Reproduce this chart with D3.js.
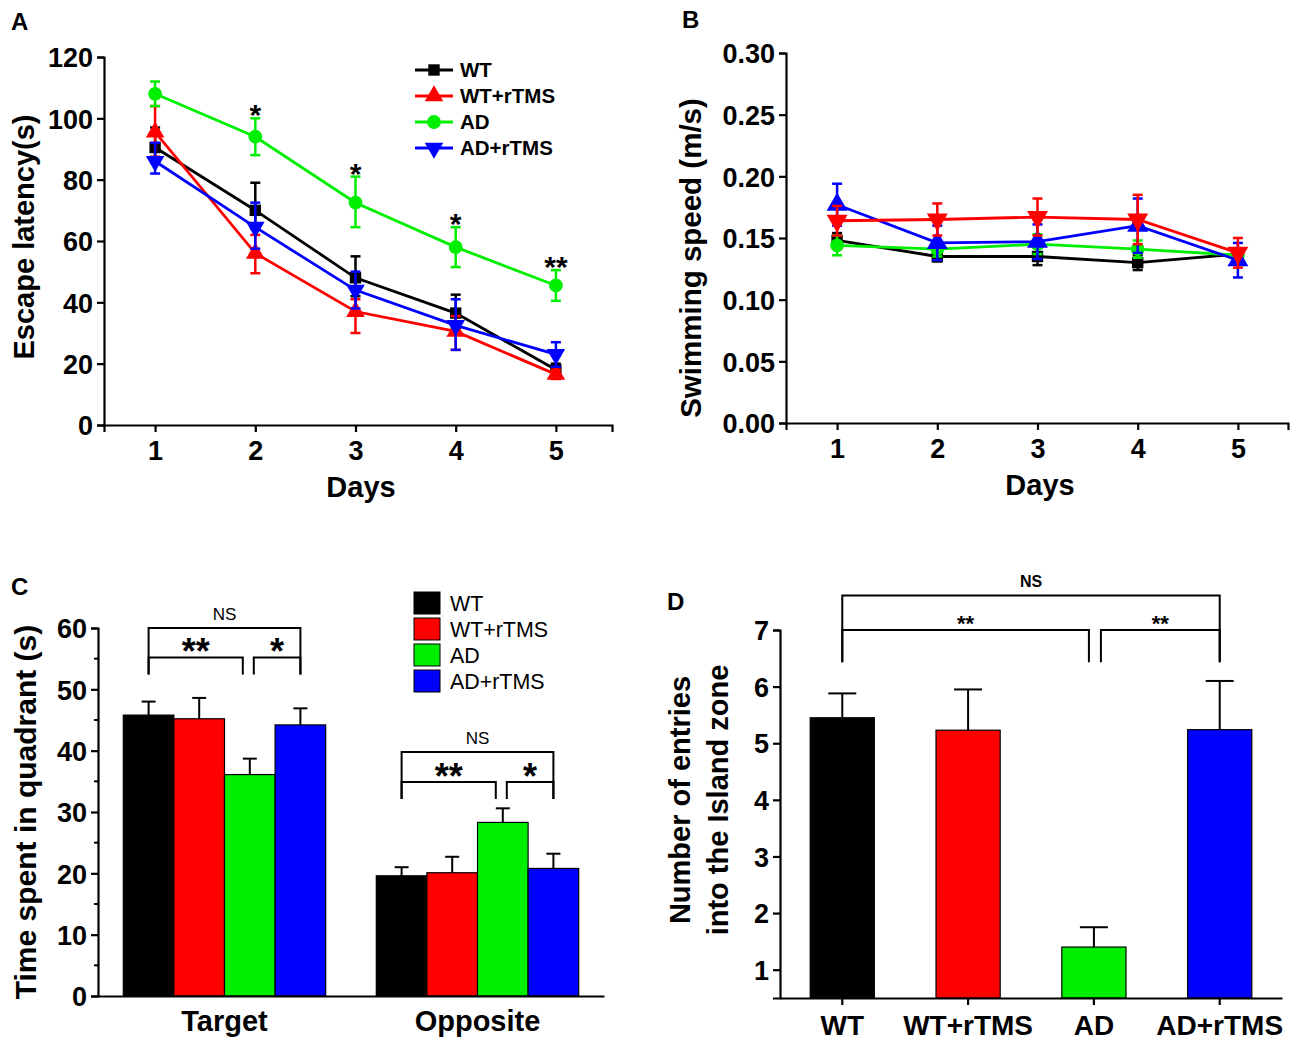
<!DOCTYPE html>
<html>
<head>
<meta charset="utf-8">
<script src="https://cdn.jsdelivr.net/npm/d3@7"></script>
<style>
  body { margin: 0; background: #fff; }
  text { font-family: 'Liberation Sans', Arial, sans-serif; }
</style>
</head>
<body>
<svg id="fig" width="1300" height="1049"></svg>
<script>
// Groups shared across panels
const groups = ["WT", "WT+rTMS", "AD", "AD+rTMS"];
const groupColors = ["#000000", "#ff0000", "#00ee00", "#0000ff"];
const days = [1, 2, 3, 4, 5];

// Panel A - escape latency (s)
const latencyWT = [90.5, 70, 48, 36.5, 18];
const latencyWTrTMS = [95.5, 56, 37, 30.5, 16.5];
const latencyAD = [108, 94, 72.5, 58, 45.5];
const latencyADrTMS = [86, 64.5, 44, 32.5, 23];
const latencyUpWT = [6.5, 9, 7, 6, 2];
const latencyUpWTrTMS = [8.5, 6, 4, 5, 1.5];
const latencyUpAD = [4, 6, 8.5, 6.5, 5];
const latencyUpADrTMS = [6, 8, 6, 8.5, 4];
const latencyDownWT = [5, 6, 6, 5, 2];
const latencyDownWTrTMS = [8, 6.5, 7, 6, 1.5];
const latencyDownAD = [4, 6, 8, 6.5, 5];
const latencyDownADrTMS = [4, 7, 6, 8, 4];
const latencyStars = ["", "*", "*", "*", "**"];
const latencyTicks = [0, 20, 40, 60, 80, 100, 120];

// Panel B - swimming speed (m/s)
const speedWT = [0.148, 0.135, 0.135, 0.130, 0.137];
const speedWTrTMS = [0.164, 0.165, 0.167, 0.165, 0.138];
const speedAD = [0.144, 0.141, 0.145, 0.141, 0.136];
const speedADrTMS = [0.177, 0.146, 0.147, 0.160, 0.132];
const speedErrWT = [0.006, 0.004, 0.007, 0.006, 0.004];
const speedErrWTrTMS = [0.012, 0.013, 0.015, 0.020, 0.012];
const speedErrAD = [0.008, 0.006, 0.008, 0.007, 0.004];
const speedErrADrTMS = [0.017, 0.014, 0.014, 0.022, 0.014];
const speedTicks = [0, 0.05, 0.10, 0.15, 0.20, 0.25, 0.30];

// Panel C - time spent in quadrant (s)
const quadrants = ["Target", "Opposite"];
const quadrantMean = [[45.8, 45.2, 36.1, 44.2], [19.6, 20.1, 28.3, 20.8]];
const quadrantErr = [[2.2, 3.4, 2.6, 2.7], [1.4, 2.6, 2.3, 2.4]];
const quadrantTicks = [0, 10, 20, 30, 40, 50, 60];
// brackets: group index, first bar, last bar, line level, leg level, label, kind
const quadrantBrackets = [
  [0, 0, 3, 60, 52.4, "NS", "ns"], [0, 0, 2, 55.2, 52.4, "**", "left"], [0, 2, 3, 55.2, 52.4, "*", "right"],
  [1, 0, 3, 39.8, 32.1, "NS", "ns"], [1, 0, 2, 34.9, 32.1, "**", "left"], [1, 2, 3, 34.9, 32.1, "*", "right"]
];

// Panel D - island zone entries
const entriesMean = [5.45, 5.23, 1.40, 5.24];
const entriesErr = [0.43, 0.72, 0.35, 0.86];
const entriesTicks = [1, 2, 3, 4, 5, 6, 7];
const entriesBrackets = [
  [0, 3, 7.61, 6.43, "NS", "ns"], [0, 2, 7.0, 6.43, "**", "left"], [2, 3, 7.0, 6.43, "**", "right"]
];

const svg = d3.select("#fig");
const boldFont = "'Liberation Sans', Arial, sans-serif";

function styleAxis(g, fontSize) {
  g.select(".domain").attr("stroke", "#000").attr("stroke-width", 2.2);
  g.selectAll(".tick line").attr("stroke", "#000").attr("stroke-width", 2.2);
  g.selectAll(".tick text")
    .attr("font-family", boldFont)
    .attr("font-weight", "bold")
    .attr("font-size", fontSize)
    .attr("fill", "#000");
}

function panelLetter(x, y, letter) {
  svg.append("text").attr("x", x).attr("y", y)
    .attr("font-weight", "bold").attr("font-size", 24).text(letter);
}

function yTitle(x, y, lines, size) {
  const t = svg.append("text")
    .attr("transform", `translate(${x},${y}) rotate(-90)`)
    .attr("text-anchor", "middle")
    .attr("font-weight", "bold")
    .attr("font-size", size);
  lines.forEach((l, i) => {
    t.append("tspan").attr("x", 0).attr("dy", i === 0 ? 0 : 38).text(l);
  });
}

// ---------- line panels ----------
function linePanel(opts) {
  const x = d3.scaleLinear().domain(opts.xDomain).range(opts.xRange);
  const y = d3.scaleLinear().domain(opts.yDomain).range(opts.yRange);

  const gx = svg.append("g").attr("transform", `translate(0,${opts.yRange[0]})`)
    .call(d3.axisBottom(x).tickValues(days).tickFormat(d3.format("d")).tickSizeOuter(0).tickSize(7).tickPadding(9));
  styleAxis(gx, 27);
  const gy = svg.append("g").attr("transform", `translate(${opts.xRange[0]},0)`)
    .call(d3.axisLeft(y).tickValues(opts.yTicks).tickFormat(opts.yFormat).tickSizeOuter(0).tickSize(7).tickPadding(4));
  styleAxis(gy, 27);
  gy.selectAll(".tick text").attr("dy", "0.36em");

  const line = d3.line().x((d, i) => x(days[i])).y(d => y(d));

  opts.series.forEach(s => {
    const g = svg.append("g");
    // error bars
    s.values.forEach((v, i) => {
      const cx = x(days[i]);
      const top = y(v + s.up[i]), bot = y(v - s.down[i]);
      g.append("line").attr("x1", cx).attr("x2", cx).attr("y1", top).attr("y2", bot)
        .attr("stroke", s.color).attr("stroke-width", 2.5);
      [top, bot].forEach(yy => {
        g.append("line").attr("x1", cx - 5).attr("x2", cx + 5).attr("y1", yy).attr("y2", yy)
          .attr("stroke", s.color).attr("stroke-width", 2.5);
      });
    });
    g.append("path").datum(s.values).attr("d", line)
      .attr("fill", "none").attr("stroke", s.color).attr("stroke-width", 2.8);
    s.values.forEach((v, i) => {
      g.append("path")
        .attr("d", d3.symbol().type(s.symbol).size(s.size)())
        .attr("transform", `translate(${x(days[i])},${y(v)}) rotate(${s.flip ? 180 : 0})`)
        .attr("fill", s.color);
    });
  });

  svg.append("text").attr("x", (opts.xRange[0] + opts.xRange[1]) / 2 + 3).attr("y", opts.yRange[0] + 72)
    .attr("text-anchor", "middle").attr("font-weight", "bold").attr("font-size", 29).text("Days");
  return { x, y };
}

// Panel A
panelLetter(11, 30, "A");
const seriesA = [
  { color: groupColors[0], values: latencyWT, up: latencyUpWT, down: latencyDownWT, symbol: d3.symbolSquare, size: 130 },
  { color: groupColors[1], values: latencyWTrTMS, up: latencyUpWTrTMS, down: latencyDownWTrTMS, symbol: d3.symbolTriangle, size: 150 },
  { color: groupColors[2], values: latencyAD, up: latencyUpAD, down: latencyDownAD, symbol: d3.symbolCircle, size: 150 },
  { color: groupColors[3], values: latencyADrTMS, up: latencyUpADrTMS, down: latencyDownADrTMS, symbol: d3.symbolTriangle, size: 150, flip: true }
];
const scA = linePanel({
  xDomain: [0.49, 5.56], xRange: [104, 612],
  yDomain: [0, 120], yRange: [425, 57], yTicks: latencyTicks, yFormat: d3.format("d"),
  series: seriesA
});
yTitle(34, 237, ["Escape latency(s)"], 29);
latencyStars.forEach((s, i) => {
  if (!s) return;
  svg.append("text").attr("x", scA.x(days[i])).attr("y", scA.y(latencyAD[i] + latencyUpAD[i]) + 7)
    .attr("text-anchor", "middle").attr("font-weight", "bold").attr("font-size", 30).text(s);
});
// legend A
groups.forEach((gname, i) => {
  const s = seriesA[i];
  const ly = 70 + i * 26;
  svg.append("line").attr("x1", 415).attr("x2", 453).attr("y1", ly).attr("y2", ly)
    .attr("stroke", s.color).attr("stroke-width", 2.8);
  svg.append("path").attr("d", d3.symbol().type(s.symbol).size(s.size)())
    .attr("transform", `translate(434,${ly}) rotate(${s.flip ? 180 : 0})`).attr("fill", s.color);
  svg.append("text").attr("x", 460).attr("y", ly + 7).attr("font-weight", "bold").attr("font-size", 20.5).text(gname);
});

// Panel B (triangle directions swapped in the original)
panelLetter(682, 28, "B");
linePanel({
  xDomain: [0.49, 5.5], xRange: [786, 1288],
  yDomain: [0, 0.30], yRange: [423, 53], yTicks: speedTicks, yFormat: d3.format(".2f"),
  series: [
    { color: groupColors[0], values: speedWT, up: speedErrWT, down: speedErrWT, symbol: d3.symbolSquare, size: 130 },
    { color: groupColors[2], values: speedAD, up: speedErrAD, down: speedErrAD, symbol: d3.symbolCircle, size: 150 },
    { color: groupColors[3], values: speedADrTMS, up: speedErrADrTMS, down: speedErrADrTMS, symbol: d3.symbolTriangle, size: 190 },
    { color: groupColors[1], values: speedWTrTMS, up: speedErrWTrTMS, down: speedErrWTrTMS, symbol: d3.symbolTriangle, size: 190, flip: true }
  ]
});
yTitle(701, 258, ["Swimming speed (m/s)"], 29.5);

// ---------- bar helpers ----------
function bracket(x1, x2, yLine, yLeg, label, size, bold, yText) {
  svg.append("path").attr("d", `M${x1},${yLeg}V${yLine}H${x2}V${yLeg}`)
    .attr("stroke", "#000").attr("stroke-width", 2).attr("fill", "none");
  svg.append("text").attr("x", (x1 + x2) / 2).attr("y", yText)
    .attr("text-anchor", "middle")
    .attr("font-weight", bold ? "bold" : "normal")
    .attr("font-size", size)
    .text(label);
}

// Panel C
panelLetter(11, 595, "C");
const xC = d3.scaleBand().domain(quadrants).range([98, 604]).paddingInner(0.2).paddingOuter(0.1);
const xCin = d3.scaleBand().domain(groups).range([0, xC.bandwidth()]);
const yC = d3.scaleLinear().domain([0, 60]).range([996, 628]);

quadrants.forEach((q, qi) => {
  groups.forEach((gname, gi) => {
    const bx = xC(q) + xCin(gname);
    const cx = bx + xCin.bandwidth() / 2;
    const v = quadrantMean[qi][gi];
    const top = yC(v + quadrantErr[qi][gi]);
    svg.append("line").attr("x1", cx).attr("x2", cx).attr("y1", yC(v)).attr("y2", top)
      .attr("stroke", "#000").attr("stroke-width", 2);
    svg.append("line").attr("x1", cx - 7).attr("x2", cx + 7).attr("y1", top).attr("y2", top)
      .attr("stroke", "#000").attr("stroke-width", 2);
    svg.append("rect").attr("x", bx).attr("y", yC(v)).attr("width", xCin.bandwidth()).attr("height", yC(0) - yC(v))
      .attr("fill", groupColors[gi]).attr("stroke", "#000").attr("stroke-width", 1.2);
  });
});
const gyC = svg.append("g").attr("transform", "translate(98,0)")
  .call(d3.axisLeft(yC).tickValues(quadrantTicks).tickSizeOuter(0).tickSize(7).tickPadding(4));
styleAxis(gyC, 27);
gyC.selectAll(".tick text").attr("dy", "0.36em");
svg.append("g").selectAll("line").data(d3.range(5, 60, 10)).join("line")
  .attr("x1", 94).attr("x2", 98).attr("y1", d => yC(d)).attr("y2", d => yC(d))
  .attr("stroke", "#000").attr("stroke-width", 2);
const gxC = svg.append("g").attr("transform", "translate(0,996)")
  .call(d3.axisBottom(xC).tickSize(0).tickSizeOuter(0).tickPadding(14));
styleAxis(gxC, 29);
gxC.selectAll(".tick text").attr("dy", "0.71em");

quadrantBrackets.forEach(([qi, a, b, lv, leg, label, kind]) => {
  const center = gi => xC(quadrants[qi]) + xCin(groups[gi]) + xCin.bandwidth() / 2;
  let x1 = center(a), x2 = center(b);
  if (kind === "left") x2 -= 7;
  if (kind === "right") x1 += 4;
  if (kind === "ns") bracket(x1, x2, yC(lv), yC(leg), label, 17, false, yC(lv) - 8);
  else bracket(x1, x2, yC(lv), yC(leg), label, 36, true, yC(lv) + 7);
});
yTitle(36, 812, ["Time spent in quadrant (s)"], 30);
groups.forEach((gname, i) => {
  const ly = 592 + i * 26;
  svg.append("rect").attr("x", 414).attr("y", ly).attr("width", 26).attr("height", 22)
    .attr("fill", groupColors[i]).attr("stroke", "#000").attr("stroke-width", 1);
  svg.append("text").attr("x", 450).attr("y", ly + 19).attr("font-size", 21.4).text(gname);
});

// Panel D
panelLetter(667, 610, "D");
const xD = d3.scaleBand().domain(groups).range([780, 1282]).paddingInner(0.49).paddingOuter(0.24);
const yD = d3.scaleLinear().domain([0.5, 7]).range([998, 630]);
groups.forEach((gname, gi) => {
  const bx = xD(gname), cx = bx + xD.bandwidth() / 2, v = entriesMean[gi];
  const top = yD(v + entriesErr[gi]);
  svg.append("line").attr("x1", cx).attr("x2", cx).attr("y1", yD(v)).attr("y2", top)
    .attr("stroke", "#000").attr("stroke-width", 2);
  svg.append("line").attr("x1", cx - 14).attr("x2", cx + 14).attr("y1", top).attr("y2", top)
    .attr("stroke", "#000").attr("stroke-width", 2);
  svg.append("rect").attr("x", bx).attr("y", yD(v)).attr("width", xD.bandwidth()).attr("height", yD(0.5) - yD(v))
    .attr("fill", groupColors[gi]).attr("stroke", "#000").attr("stroke-width", 1.2);
});
const gyD = svg.append("g").attr("transform", "translate(780,0)")
  .call(d3.axisLeft(yD).tickValues(entriesTicks).tickFormat(d3.format("d")).tickSizeOuter(0).tickSize(7).tickPadding(4));
styleAxis(gyD, 27);
gyD.selectAll(".tick text").attr("dy", "0.36em");
const gxD = svg.append("g").attr("transform", "translate(0,998)")
  .call(d3.axisBottom(xD).tickSize(7).tickSizeOuter(0).tickPadding(10));
styleAxis(gxD, 28);
gxD.selectAll(".tick text").attr("dy", "0.71em");
entriesBrackets.forEach(([a, b, lv, leg, label, kind]) => {
  const center = gi => xD(groups[gi]) + xD.bandwidth() / 2;
  let x1 = center(a), x2 = center(b);
  if (kind === "left") x2 -= 5;
  if (kind === "right") x1 += 7;
  if (kind === "ns") bracket(x1, x2, yD(lv), yD(leg), label, 16, true, yD(lv) - 8);
  else bracket(x1, x2, yD(lv), yD(leg), label, 22, true, yD(lv) + 1);
});
yTitle(690, 800, ["Number of entries", "into the Island zone"], 29);
</script>
</body>
</html>
